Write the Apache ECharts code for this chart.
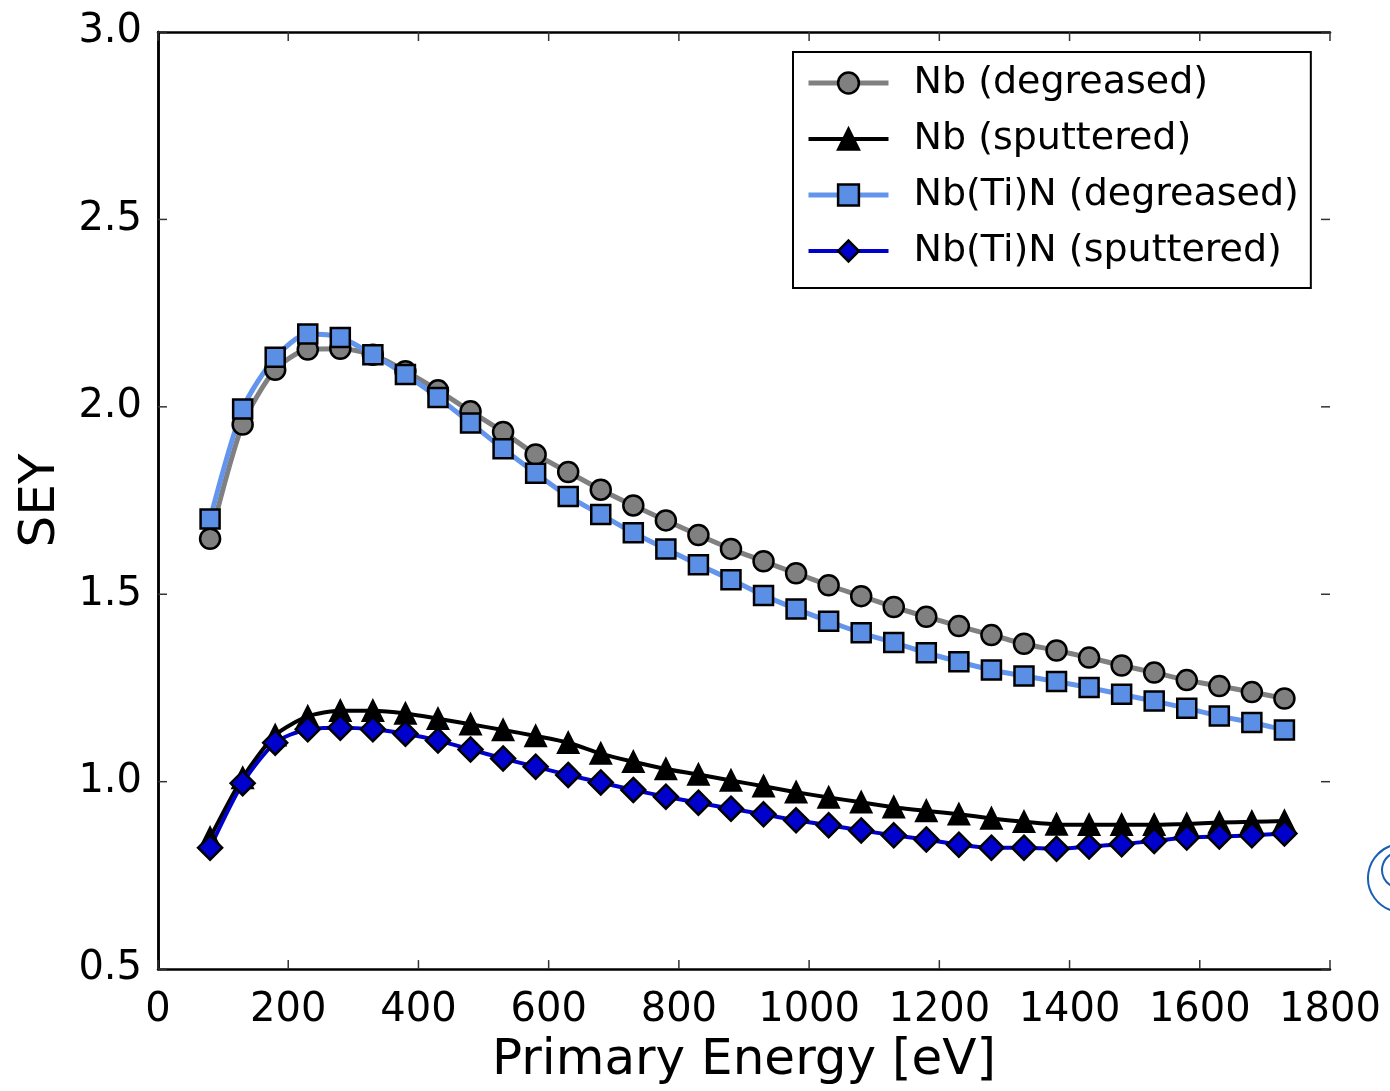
<!DOCTYPE html>
<html>
<head>
<meta charset="utf-8">
<script src="https://cdn.jsdelivr.net/npm/echarts@6/dist/echarts.min.js"></script>
<style>html,body{margin:0;padding:0;background:#fff}#c{width:1390px;height:1091px}</style>
</head>
<body>
<div id="c"></div>
<script>
const energy = [80,130,180,230,280,330,380,430,480,530,580,630,680,730,780,830,880,930,980,1030,1080,1130,1180,1230,1280,1330,1380,1430,1480,1530,1580,1630,1680,1730];
const nbDegreased = [1.648,1.953,2.099,2.153,2.155,2.139,2.095,2.044,1.988,1.933,1.873,1.826,1.779,1.737,1.697,1.658,1.621,1.588,1.556,1.524,1.495,1.466,1.440,1.415,1.391,1.368,1.350,1.331,1.310,1.291,1.271,1.255,1.239,1.222];
const nbSputtered = [0.85,1.01,1.124,1.174,1.189,1.189,1.182,1.168,1.153,1.138,1.122,1.104,1.075,1.053,1.034,1.019,1.003,0.988,0.972,0.958,0.945,0.932,0.922,0.913,0.902,0.893,0.886,0.885,0.885,0.885,0.887,0.891,0.893,0.895];
const nbtinDegreased = [1.701,1.994,2.132,2.194,2.185,2.139,2.086,2.025,1.957,1.888,1.823,1.761,1.713,1.664,1.621,1.579,1.539,1.497,1.461,1.428,1.397,1.371,1.344,1.320,1.298,1.282,1.267,1.251,1.233,1.215,1.196,1.175,1.158,1.138];
const nbtinSputtered = [0.824,0.996,1.104,1.140,1.144,1.140,1.128,1.110,1.086,1.062,1.040,1.018,0.998,0.978,0.960,0.944,0.928,0.913,0.897,0.884,0.870,0.857,0.846,0.832,0.824,0.824,0.821,0.827,0.833,0.842,0.851,0.854,0.857,0.862];
const seriesNames = ['Nb (degreased)','Nb (sputtered)','Nb(Ti)N (degreased)','Nb(Ti)N (sputtered)'];
const xTicks = [0,200,400,600,800,1000,1200,1400,1600,1800];
const yTicks = [0.5,1.0,1.5,2.0,2.5,3.0];

const FONT = 'DejaVu Sans';
const X_MIN = 0, X_MAX = 1800, Y_MIN = 0.5, Y_MAX = 3.0;
const chart = echarts.init(document.getElementById('c'), null, {renderer:'canvas'});
const pair = arr => energy.map((x,i)=>[x,arr[i]]);

const styles = [
  {color:'#808080', lw:5, symbol:'circle', size:20, fill:'#808080'},
  {color:'#000000', lw:4, symbol:'triangle', size:20, fill:'#000000'},
  {color:'#6495ED', lw:5, symbol:'rect', size:19, fill:'#5b8fe6'},
  {color:'#0000CD', lw:4, symbol:'diamond', size:24, fill:'#0000CD'}
];
const dataArrs = [nbDegreased, nbSputtered, nbtinDegreased, nbtinSputtered];

function mk(i) {
  const s = styles[i];
  return {
    name: seriesNames[i], type:'line', data:pair(dataArrs[i]),
    symbol:s.symbol, symbolSize:s.size, showSymbol:true, smooth:0.25,
    lineStyle:{color:s.color, width:s.lw}, itemStyle:{color:s.fill, borderColor:'#000', borderWidth:2.5},
    emphasis:{disabled:true}, animation:false, z:3
  };
}

const TICK = 9;
const tickStyle = {stroke:'#333', lineWidth:1.5};
const tickSeries = [{
  type:'custom', name:'xticks', data:xTicks.map(v=>[v]), silent:true, clip:false, z:1,
  renderItem:(params, api)=>{
    const v = api.value(0);
    const b = api.coord([v, Y_MIN]), t = api.coord([v, Y_MAX]);
    return {type:'group', children:[
      {type:'line', shape:{x1:b[0], y1:b[1], x2:b[0], y2:b[1]-TICK}, style:tickStyle},
      {type:'line', shape:{x1:t[0], y1:t[1], x2:t[0], y2:t[1]+TICK}, style:tickStyle}
    ]};
  }
},{
  type:'custom', name:'yticks', data:yTicks.map(v=>[X_MIN, v]), silent:true, clip:false, z:1,
  renderItem:(params, api)=>{
    const v = api.value(1);
    const l = api.coord([X_MIN, v]), r = api.coord([X_MAX, v]);
    return {type:'group', children:[
      {type:'line', shape:{x1:l[0], y1:l[1], x2:l[0]+TICK, y2:l[1]}, style:tickStyle},
      {type:'line', shape:{x1:r[0], y1:r[1], x2:r[0]-TICK, y2:r[1]}, style:tickStyle}
    ]};
  }
}];

chart.setOption({
  animation:false,
  backgroundColor:'#fff',
  grid:{left:158, top:32, width:1172, height:938, containLabel:false},
  legend:{
    left:793, top:52, orient:'vertical',
    backgroundColor:'#fff', borderColor:'#000', borderWidth:2,
    padding:[12,12,18,13], itemGap:18, itemWidth:80, itemHeight:26,
    textStyle:{fontFamily:FONT, fontSize:38, color:'#000', padding:[0,0,0,20]},
    data:seriesNames.map((n,i)=>({name:n, itemStyle:{color:styles[i].fill, borderColor:'#000', borderWidth:2.5}, lineStyle:{color:styles[i].color, width:styles[i].lw}}))
  },
  xAxis:[{
    type:'value', min:X_MIN, max:X_MAX, interval:200, position:'bottom',
    name:'Primary Energy [eV]', nameLocation:'middle', nameGap:66,
    nameTextStyle:{fontFamily:FONT, fontSize:50, color:'#000'},
    axisLine:{show:true, lineStyle:{color:'#000', width:2.5}}, axisTick:{show:false}, splitLine:{show:false},
    axisLabel:{fontFamily:FONT, fontSize:40, color:'#000', margin:22, formatter:v=>String(v)}
  },{
    type:'value', min:X_MIN, max:X_MAX, interval:200, position:'top',
    axisLine:{show:true, lineStyle:{color:'#000', width:2.5}}, axisTick:{show:false}, axisLabel:{show:false}, splitLine:{show:false}
  }],
  yAxis:[{
    type:'value', min:Y_MIN, max:Y_MAX, interval:0.5, position:'left',
    name:'SEY', nameLocation:'middle', nameGap:92, nameRotate:90,
    nameTextStyle:{fontFamily:FONT, fontSize:50, color:'#000'},
    axisLine:{show:true, lineStyle:{color:'#000', width:2.5}}, axisTick:{show:false}, splitLine:{show:false},
    axisLabel:{fontFamily:FONT, fontSize:40, color:'#000', margin:16, formatter:v=>v.toFixed(1)}
  },{
    type:'value', min:Y_MIN, max:Y_MAX, interval:0.5, position:'right',
    axisLine:{show:true, lineStyle:{color:'#000', width:2.5}}, axisTick:{show:false}, axisLabel:{show:false}, splitLine:{show:false}
  }],
  series:[mk(0), mk(1), mk(2), mk(3)].concat(tickSeries),
  graphic:[{
    type:'arc', shape:{cx:1402, cy:878, r:34, startAngle:Math.PI*0.55, endAngle:Math.PI*1.45},
    style:{stroke:'#1a5fb4', lineWidth:2, fill:null}, silent:true
  },{
    type:'arc', shape:{cx:1400, cy:870, r:18, startAngle:Math.PI*0.6, endAngle:Math.PI*1.4},
    style:{stroke:'#1a5fb4', lineWidth:2, fill:null}, silent:true
  }]
});
</script>
</body>
</html>
